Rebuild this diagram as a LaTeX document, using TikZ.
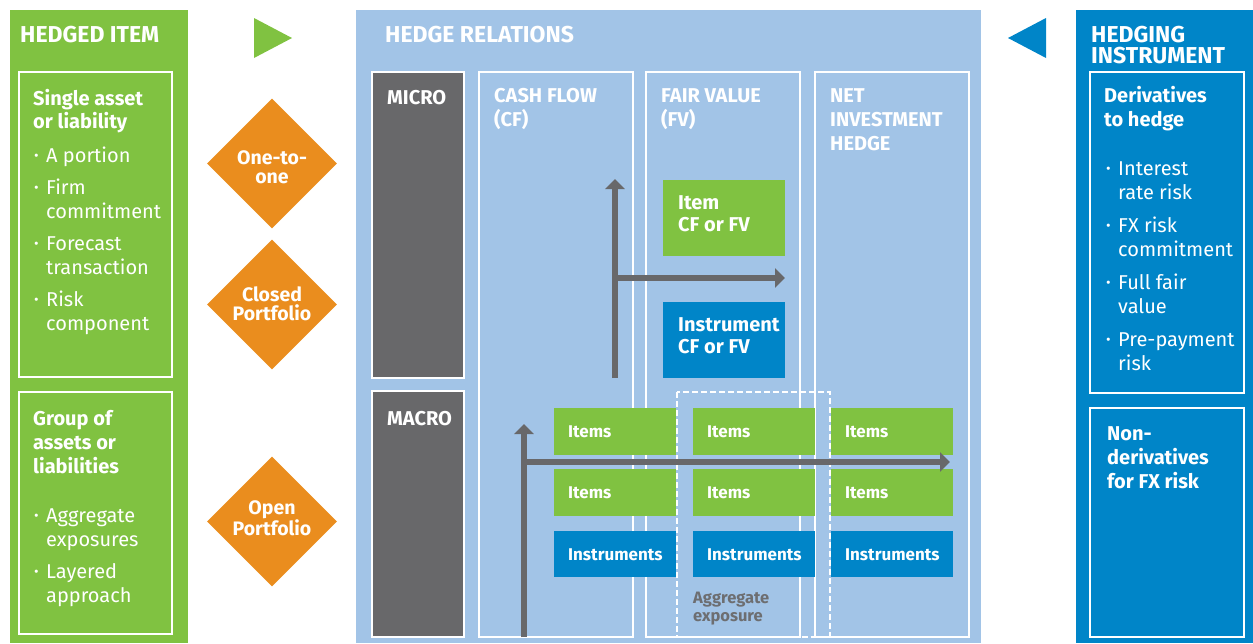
\documentclass[tikz,border=0pt]{standalone}
\usepackage{fontspec}
\setmainfont{Fira Sans}
\usetikzlibrary{arrows.meta,shapes.geometric}
\definecolor{hgreen}{RGB}{128,194,65}
\definecolor{horange}{RGB}{234,141,30}
\definecolor{hlight}{RGB}{162,196,231}
\definecolor{hblue}{RGB}{0,133,200}
\definecolor{hgray}{RGB}{104,104,106}
\definecolor{hgraytext}{RGB}{109,110,113}
\newcommand\hbul{\makebox[12pt][l]{\raisebox{1.5pt}{\fontsize{14}{14}\selectfont •}}}
\newcommand\hind{\hspace*{12pt}}
\begin{document}
\begin{tikzpicture}[x=1pt,y=-1pt,
 ttl/.style={font=\fontsize{23}{21.5}\selectfont\bfseries, text=white, anchor=base west, inner sep=0, align=left},
 sub/.style={font=\fontsize{20}{24}\selectfont\bfseries, text=white, anchor=base west, inner sep=0, align=left},
 body/.style={font=\fontsize{20}{24}\selectfont, text=white, anchor=base west, inner sep=0, align=left},
 outl/.style={draw=white, line width=1.3},
 tile/.style={font=\fontsize{17}{22}\selectfont\bfseries, text=white, anchor=base west, inner sep=0, align=left},
 dia/.style={diamond, fill=horange, minimum width=130, minimum height=130, inner sep=0},
 diatext/.style={font=\fontsize{19.5}{18.5}\selectfont\bfseries, text=white, align=center, anchor=base, inner sep=0},
 flow/.style={draw=hgray, line width=5.5, -{Triangle[width=19,length=10]}}
]
\useasboundingbox (0,0) rectangle (1253,643);
% ---------- left panel
\fill[hgreen] (10,10) rectangle (188,643);
\node[ttl] (hi) at (20,42) {HEDGED ITEM};
\draw[outl] (19,72) rectangle (172,377);
\draw[outl] (19,392) rectangle (172,634);
\node[sub] (single) at (33,128.5) {Single asset\\[-0.5pt]or liability};
\node[body] (singlelist) at (34,330) {\hbul A portion\\[8pt]\hbul Firm\\\hind commitment\\[8pt]\hbul Forecast\\\hind transaction\\[8pt]\hbul Risk\\\hind component};
\node[sub] (group) at (33,473) {Group of\\assets or\\liabilities};
\node[body] (grouplist) at (34,602) {\hbul Aggregate\\\hind exposures\\[8pt]\hbul Layered\\\hind approach};
% ---------- triangles
\fill[hgreen] (254,18) -- (292,38) -- (254,58) -- cycle;
\fill[hblue] (1046,18) -- (1008,38) -- (1046,58) -- cycle;
% ---------- diamonds
\node[dia] (d1) at (272,163.5) {};
\node[dia] (d2) at (272,304.5) {};
\node[dia] (d3) at (272,521.5) {};
\node[diatext] (t1) at (272,183) {One-to-\\one};
\node[diatext] (t2) at (272,320) {Closed\\Portfolio};
\node[diatext] (t3) at (272,535.5) {Open\\Portfolio};
% ---------- middle panel
\fill[hlight] (356,10) rectangle (981,643);
\node[ttl] (hr) at (385,42) {HEDGE RELATIONS};
\filldraw[fill=hgray, outl] (372,72) rectangle (464,378);
\filldraw[fill=hgray, outl] (372,391) rectangle (464,637);
\node[sub] (micro) at (387,104) {MICRO};
\node[sub] (macro) at (387,425) {MACRO};
\draw[outl] (479,72) rectangle (633,637);
\draw[outl] (646,72) rectangle (800,637);
\draw[outl] (815,72) rectangle (969,637);
\node[sub] (cf) at (494,126) {CASH FLOW\\(CF)};
\node[sub] (fv) at (661,126) {FAIR VALUE\\(FV)};
\node[sub] (ni) at (830,150) {NET\\INVESTMENT\\HEDGE};
% micro tiles
\fill[hgreen] (663,180) rectangle (785,256);
\node[sub, font=\fontsize{20}{22}\selectfont\bfseries] (itm) at (678,231) {Item\\CF or FV};
\fill[hblue] (663,302) rectangle (785,378);
\node[sub, font=\fontsize{20}{22}\selectfont\bfseries] (ins) at (678,353) {Instrument\\CF or FV};
% macro tiles
\foreach \x/\n in {554/a,693/b,831/c}{
  \fill[hgreen] (\x,408) rectangle (\x+122,455);
  \fill[hgreen] (\x,469) rectangle (\x+122,516);
  \fill[hblue] (\x,531) rectangle (\x+122,577);
  \node[tile] (it1\n) at (\x+14,437) {Items};
  \node[tile] (it2\n) at (\x+14,498) {Items};
  \node[tile] (in\n) at (\x+14,560) {Instruments};
}
\draw[draw=white, line width=2, dash pattern=on 6pt off 3pt] (677,392) rectangle (830,636.5);
\node[tile, text=hgraytext, font=\fontsize{16.5}{18.5}\selectfont\bfseries] (agg) at (693,621.5) {Aggregate\\exposure};
% arrows
\coordinate (m0) at (615,378);
\coordinate (m1) at (615,179);
\coordinate (m2) at (615,278);
\coordinate (m3) at (785,278);
\draw[flow] (m0) -- (m1);
\draw[flow] (m2) -- (m3);
\coordinate (n0) at (524,637);
\coordinate (n1) at (524,424);
\coordinate (n2) at (524,462);
\coordinate (n3) at (950,462);
\draw[flow] (n0) -- (n1);
\draw[flow] (n2) -- (n3);
% ---------- right panel
\fill[hblue] (1076,10) rectangle (1253,643);
\node[ttl] (hin) at (1091,63.5) {HEDGING\\INSTRUMENT};
\draw[outl] (1090,72) rectangle (1244,393);
\draw[outl] (1090,408) rectangle (1244,637);
\node[sub] (deriv) at (1104,126) {Derivatives\\to hedge};
\node[body] (derivlist) at (1106,370) {\hbul Interest\\\hind rate risk\\[9pt]\hbul FX risk\\\hind commitment\\[9pt]\hbul Full fair\\\hind value\\[9pt]\hbul Pre-payment\\\hind risk};
\node[sub] (nonder) at (1107,488) {Non-\\derivatives\\for FX risk};
\end{tikzpicture}
\end{document}
